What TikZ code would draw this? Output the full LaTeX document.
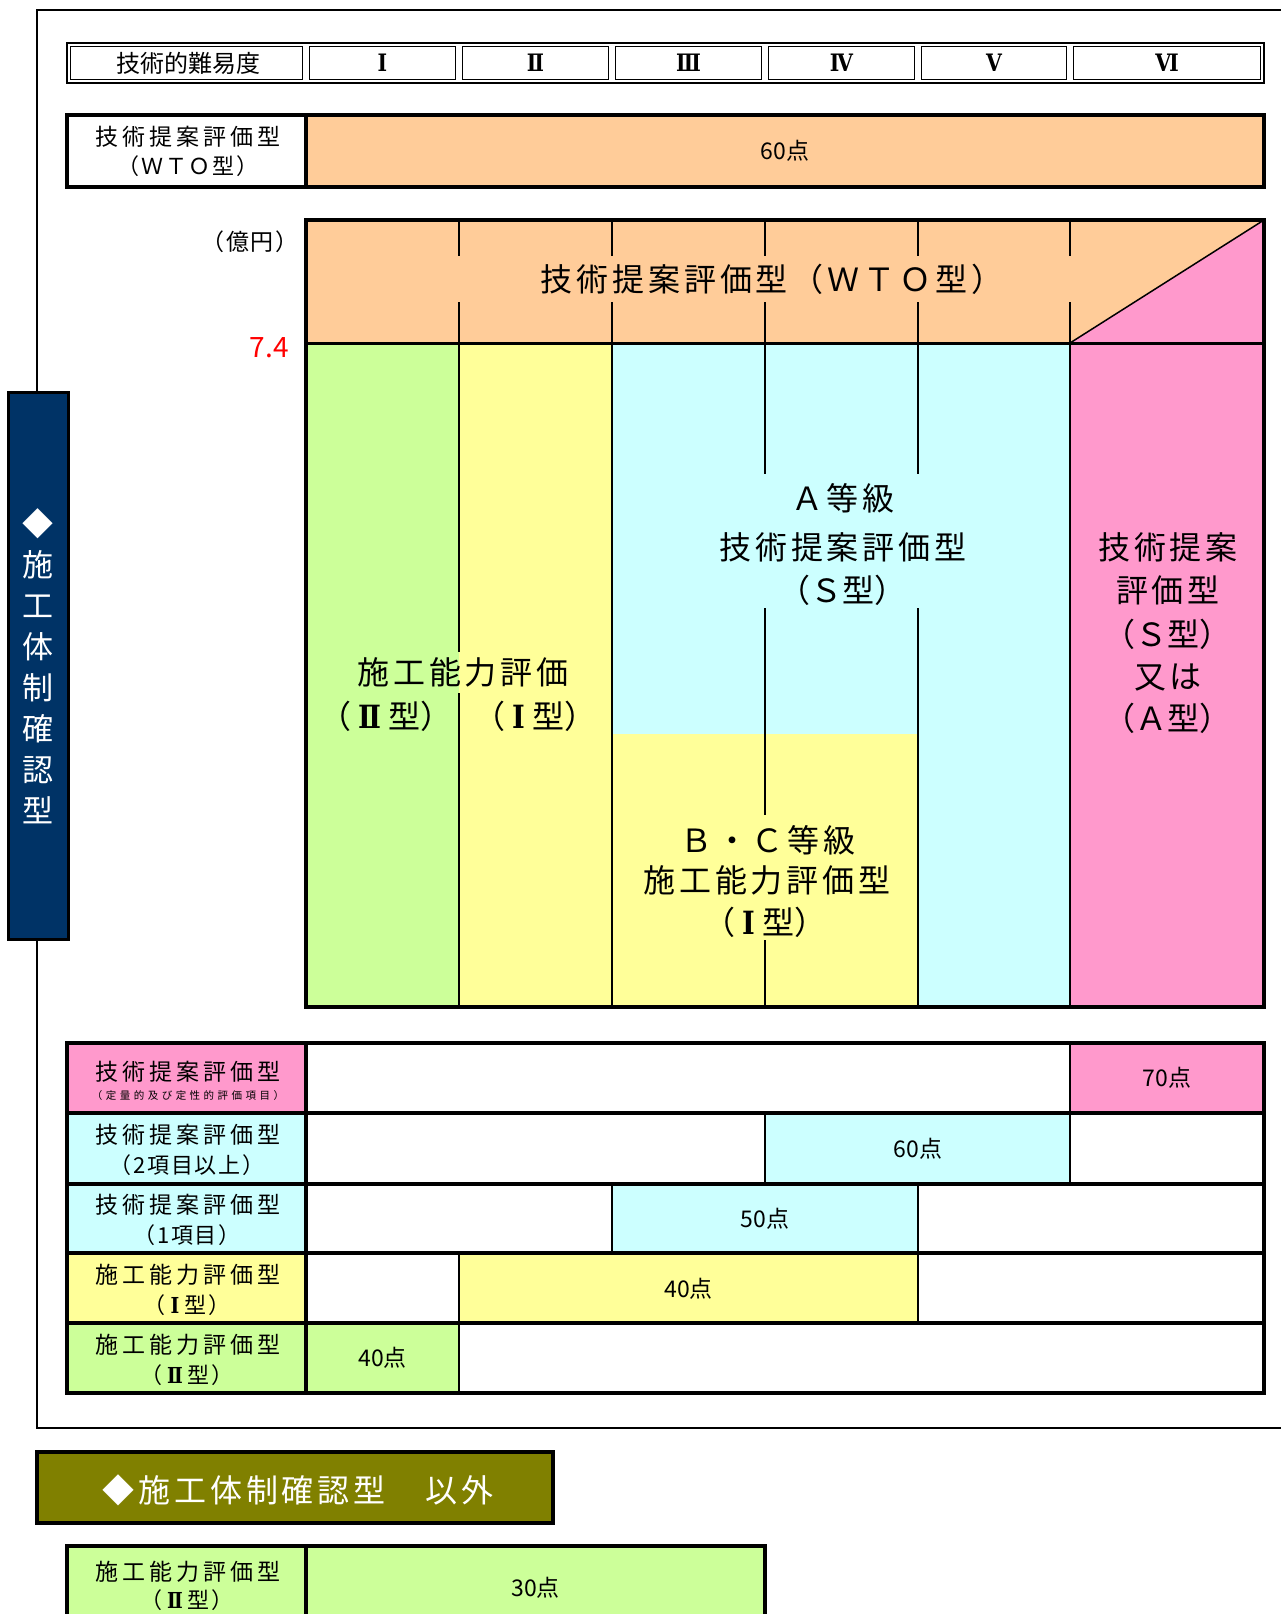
\documentclass[tikz,border=0pt]{standalone}
\usepackage{fontspec}
\setmainfont{Noto Sans CJK JP}
\newfontfamily\fA[LetterSpace=12]{Noto Sans CJK JP}
\newfontfamily\fB[LetterSpace=17]{Noto Sans CJK JP}
\newfontfamily\fE[LetterSpace=8]{Noto Sans CJK JP}
\newfontfamily\fC[LetterSpace=33]{Noto Sans CJK JP}
\newfontfamily\fD{Noto Sans CJK JP}
\newfontfamily\fR[FakeStretch=0.85]{DejaVu Serif Bold}
\newcommand{\rmn}[1]{{\fR #1}}
\newcommand{\rmb}[1]{\makebox[0.85em]{\fR #1}}
\newcommand{\rmbb}[1]{\makebox[1.15em]{\fR #1}}
\definecolor{cOr}{HTML}{FFCC99}
\definecolor{cGr}{HTML}{CCFF99}
\definecolor{cYe}{HTML}{FFFF99}
\definecolor{cCy}{HTML}{CCFFFF}
\definecolor{cPk}{HTML}{FF99CC}
\definecolor{cNv}{HTML}{003366}
\definecolor{cOl}{HTML}{808000}
\begin{document}
\begin{tikzpicture}[x=1pt,y=-1pt,
  big/.style={font=\fA\fontsize{32}{40}\selectfont, inner sep=0pt},
  bigp/.style={font=\fD\fontsize{32}{40}\selectfont, inner sep=0pt},
  lab/.style={font=\fB\fontsize{23}{28}\selectfont, inner sep=0pt},
  labp/.style={font=\fE\fontsize{22}{28}\selectfont, inner sep=0pt},
  small/.style={font=\fC\fontsize{10.5}{12}\selectfont, inner sep=0pt},
  pts/.style={font=\fD\fontsize{23}{28}\selectfont, inner sep=0pt},
  hdr/.style={font=\fD\fontsize{24}{28}\selectfont, inner sep=0pt},
  thin/.style={line width=2pt},
  thick/.style={line width=3.5pt},
  wtxt/.style={text=white, inner sep=0pt}]
\useasboundingbox (0,0) rectangle (1280,1614);
% outer frame
\draw[line width=2.5pt] (1300,10) -- (37,10) -- (37,1428) -- (1300,1428);
% header row
\draw[line width=2.5pt] (67,43) rectangle (1264,83);
\foreach \a/\b in {67/306,306/459,459/612,612/765,765/918,918/1070,1070/1264}
  \draw[line width=1.2pt] (\a+3.5,46.5) rectangle (\b-3.5,79.5);
\node[hdr] (h0) at (188,63) {技術的難易度};
\node[hdr] (h1) at (382.5,63) {\rmn{Ⅰ}};
\node[hdr] (h2) at (535.5,63) {\rmn{Ⅱ}};
\node[hdr] (h3) at (688.5,63) {\rmn{Ⅲ}};
\node[hdr] (h4) at (841.5,63) {\rmn{Ⅳ}};
\node[hdr] (h5) at (994,63) {\rmn{Ⅴ}};
\node[hdr] (h6) at (1167,63) {\rmn{Ⅵ}};
% WTO row
\fill[cOr] (306,115) rectangle (1264,187);
\draw[thick] (67,115) rectangle (1264,187);
\draw[thick] (306,115) -- (306,187);
\node[lab] (w1) at (188,137) {技術提案評価型};
\node[labp] (w2) at (188,166) {（ＷＴＯ型）};
\node[pts] (w3) at (785,151) {60点};
% main chart fills
\fill[cOr] (306,220) rectangle (1264,343);
\fill[cPk] (1070,343) -- (1264,220) -- (1264,343) -- cycle;
\fill[cGr] (306,343) rectangle (459,1007);
\fill[cYe] (459,343) rectangle (612,1007);
\fill[cCy] (612,343) rectangle (918,734);
\fill[cYe] (612,734) rectangle (918,1007);
\fill[cCy] (918,343) rectangle (1070,1007);
\fill[cPk] (1070,343) rectangle (1264,1007);
% thin dividers
\foreach \x in {459,612,765,918,1070} {
  \draw[thin] (\x,220) -- (\x,256);
  \draw[thin] (\x,302) -- (\x,343);
}
\draw[line width=1.5pt] (1070,343) -- (1264,220);
\draw[thin] (459,343) -- (459,652);
\draw[thin] (459,693) -- (459,1007);
\draw[thin] (612,343) -- (612,1007);
\draw[thin] (765,343) -- (765,474);
\draw[thin] (765,608) -- (765,815);
\draw[thin] (765,940) -- (765,1007);
\draw[thin] (918,343) -- (918,474);
\draw[thin] (918,608) -- (918,1007);
\draw[thin] (1070,343) -- (1070,1007);
% main chart borders
\draw[line width=3pt] (306,343) -- (1264,343);
\draw[thick] (306,220) rectangle (1264,1007);
% axis labels
\node[font=\fE\fontsize{23}{26}\selectfont, inner sep=0pt, anchor=east] (unit) at (299,242) {（億円）};
\node[font=\fD\fontsize{28}{30}\selectfont, text=red, inner sep=0pt, anchor=east] (v74) at (289,348) {7.4};
% main chart texts
\node[big] (t1) at (772,279) {技術提案評価型（ＷＴＯ型）};
\node[big] (a1) at (843,498) {Ａ等級};
\node[big] (a2) at (843,547) {技術提案評価型};
\node[bigp] (a3) at (842,590) {（Ｓ型）};
\node[big] (p1) at (1168,547) {技術提案};
\node[big] (p2) at (1168,590) {評価型};
\node[bigp] (p3) at (1167,634) {（Ｓ型）};
\node[big] (p4) at (1168,677) {又は};
\node[bigp] (p5) at (1167,718) {（Ａ型）};
\node[big] (g1) at (463,672) {施工能力評価};
\node[bigp] (g2) at (386,716) {（\rmbb{Ⅱ}型）};
\node[bigp] (g3) at (535,716) {（\rmb{Ⅰ}型）};
\node[big] (b1) at (768,840) {Ｂ・Ｃ等級};
\node[big] (b2) at (767,880) {施工能力評価型};
\node[bigp] (b3) at (765,922) {（\rmb{Ⅰ}型）};
% sidebar
\draw[fill=cNv, line width=3pt] (8,392) rectangle (68,939);
\node[wtxt, font=\fD\fontsize{31}{41}\selectfont, align=center] (side) at (38,666) {◆\\施\\工\\体\\制\\確\\認\\型};
% bottom table fills
\fill[cPk] (67,1043) rectangle (306,1113);
\fill[cPk] (1070,1043) rectangle (1264,1113);
\fill[cCy] (67,1113) rectangle (306,1184);
\fill[cCy] (765,1113) rectangle (1070,1184);
\fill[cCy] (67,1184) rectangle (306,1253);
\fill[cCy] (612,1184) rectangle (918,1253);
\fill[cYe] (67,1253) rectangle (306,1323);
\fill[cYe] (459,1253) rectangle (918,1323);
\fill[cGr] (67,1323) rectangle (459,1393);
% bottom table inner lines
\draw[thin] (1070,1043) -- (1070,1113);
\draw[thin] (765,1113) -- (765,1184);
\draw[thin] (1070,1113) -- (1070,1184);
\draw[thin] (612,1184) -- (612,1253);
\draw[thin] (918,1184) -- (918,1253);
\draw[thin] (459,1253) -- (459,1323);
\draw[thin] (918,1253) -- (918,1323);
\draw[thin] (459,1323) -- (459,1393);
% bottom table borders
\foreach \y in {1113,1184,1253,1323}
  \draw[line width=4pt] (67,\y) -- (1264,\y);
\draw[thick] (306,1043) -- (306,1393);
\draw[line width=4pt] (67,1043) rectangle (1264,1393);
% bottom table texts
\node[lab] (r1a) at (188,1072) {技術提案評価型};
\node[small] (r1b) at (188,1095) {（定量的及び定性的評価項目）};
\node[pts] (r1c) at (1167,1078) {70点};
\node[lab] (r2a) at (188,1135) {技術提案評価型};
\node[labp] (r2b) at (187,1165) {（2項目以上）};
\node[pts] (r2c) at (918,1149) {60点};
\node[lab] (r3a) at (188,1205) {技術提案評価型};
\node[labp] (r3b) at (187,1235) {（1項目）};
\node[pts] (r3c) at (765,1219) {50点};
\node[lab] (r4a) at (188,1275) {施工能力評価型};
\node[labp] (r4b) at (187,1305) {（\rmb{Ⅰ}型）};
\node[pts] (r4c) at (688.5,1289) {40点};
\node[lab] (r5a) at (188,1345) {施工能力評価型};
\node[labp] (r5b) at (187,1375) {（\rmbb{Ⅱ}型）};
\node[pts] (r5c) at (382.5,1358) {40点};
% second section
\draw[fill=cOl, line width=3.5pt] (37,1452) rectangle (553,1523);
\node[wtxt, font=\fA\fontsize{32}{40}\selectfont] (sec2) at (298,1490) {◆施工体制確認型　以外};
\fill[cGr] (67,1546) rectangle (765,1650);
\draw[thick] (67,1650) -- (67,1546) -- (765,1546) -- (765,1650);
\draw[thick] (306,1546) -- (306,1650);
\node[lab] (s1) at (188,1572) {施工能力評価型};
\node[labp] (s2) at (187,1600) {（\rmbb{Ⅱ}型）};
\node[pts] (s3) at (535.5,1588) {30点};
\end{tikzpicture}
\end{document}
